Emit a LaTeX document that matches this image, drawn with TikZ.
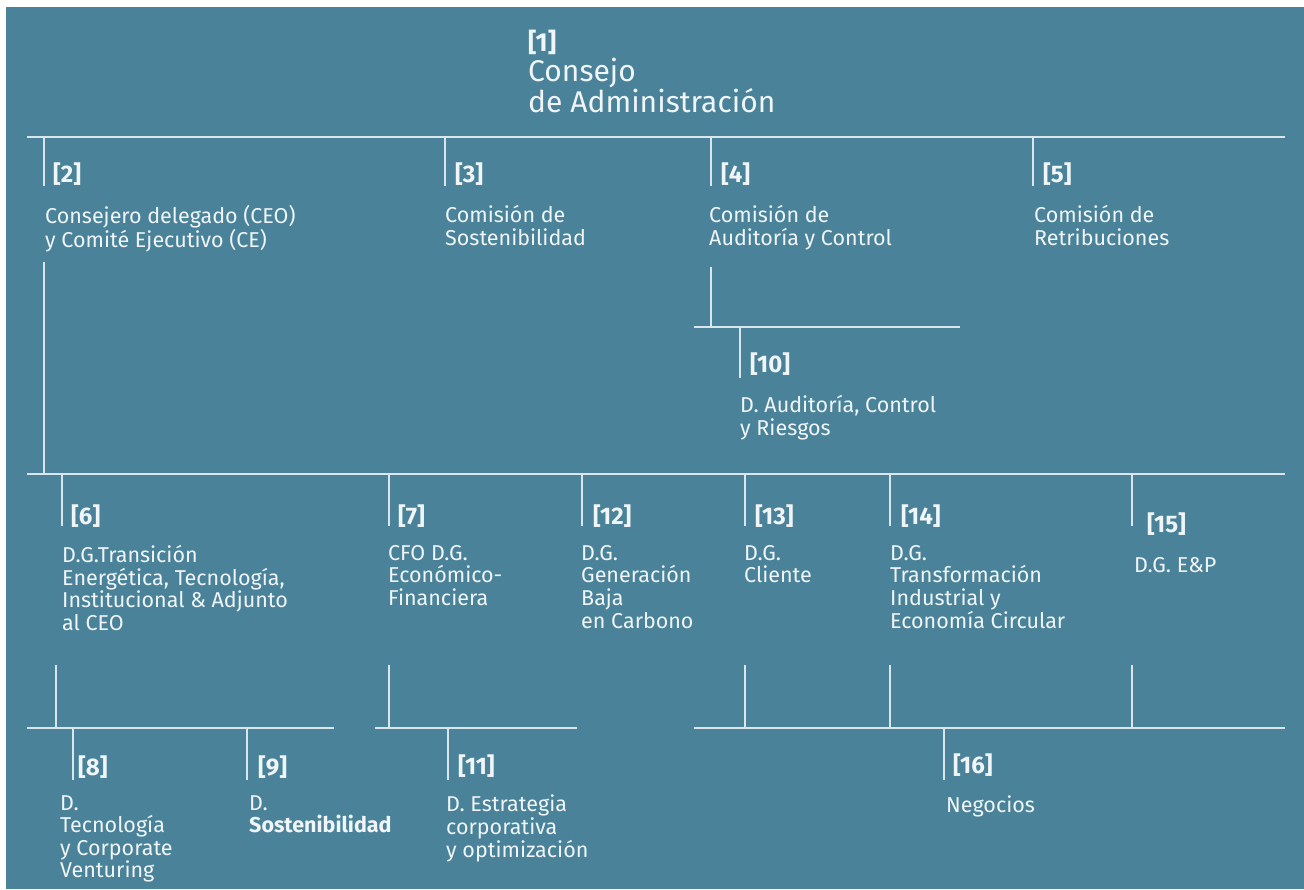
\documentclass[tikz,border=0pt]{standalone}
\usepackage{fontspec}
\setmainfont{Fira Sans}
\usetikzlibrary{positioning}
\definecolor{panel}{RGB}{74,131,153}
\definecolor{wirec}{RGB}{218,230,235}
\definecolor{ink}{RGB}{240,245,247}

\begin{document}
\begin{tikzpicture}[
    x=1pt, y=-1pt,
    every node/.style={inner sep=0pt, text=ink},
    lbl/.style={anchor=west, font=\bfseries\fontsize{24}{24}\selectfont},
    txt/.style={anchor=north west, yshift=17pt, align=left,
      execute at begin node={\rule{0pt}{17pt}},
      font=\fontsize{21.5}{22.6}\selectfont},
    head/.style={anchor=north west, yshift=24pt, align=left,
      execute at begin node={\rule{0pt}{24pt}},
      font=\fontsize{30}{28}\selectfont},
    wire/.style={draw=wirec, line width=1.8pt}
]
\useasboundingbox (0,0) rectangle (1304,889);
\fill[panel] (6,7) rectangle (1304,889);

% consejo
\node[lbl, font=\bfseries\fontsize{26}{26}\selectfont] (n1) at (528,42) {[1]};
\node[head] (t1) at (528,82) {Consejo\\de Administración};

% top bus
\coordinate (busA1) at (27,137);
\coordinate (busA2) at (1285,137);
\draw[wire] (busA1) -- (busA2);
\foreach \i/\x in {2/44,3/445,4/711,5/1033}{
  \coordinate (k\i) at (\x,137);
  \draw[wire] (k\i) -- ++(0,49);
}
\node[lbl] (n2) at (53,174) {[2]};
\node[txt] (t2) at (45,222) {Consejero delegado (CEO)\\y Comité Ejecutivo (CE)};
\node[lbl] (n3) at (455,174) {[3]};
\node[txt] (t3) at (445,222) {Comisión de\\Sostenibilidad};
\node[lbl] (n4) at (721,174) {[4]};
\node[txt] (t4) at (709,222) {Comisión de\\Auditoría y Control};
\node[lbl] (n5) at (1043,174) {[5]};
\node[txt] (t5) at (1034,222) {Comisión de\\Retribuciones};

% auditoria
\coordinate (a4) at (711,267);
\coordinate (busB1) at (694,327);
\coordinate (busB2) at (960,327);
\coordinate (k10) at (740,327);
\draw[wire] (a4) -- (a4 |- busB1);
\draw[wire] (busB1) -- (busB2);
\draw[wire] (k10) -- ++(0,51);
\node[lbl] (n10) at (750,364) {[10]};
\node[txt] (t10) at (740,412) {D. Auditoría, Control\\y Riesgos};

% direcciones generales
\coordinate (a2) at (44,262);
\coordinate (busC1) at (27,474);
\coordinate (busC2) at (1285,474);
\draw[wire] (a2) -- (a2 |- busC1);
\draw[wire] (busC1) -- (busC2);
\foreach \i/\x in {6/62,7/389,12/582,13/745,14/890,15/1132}{
  \coordinate (k\i) at (\x,474);
  \draw[wire] (k\i) -- ++(0,52);
}
\node[lbl] (n6) at (71,516) {[6]};
\node[txt] (t6) at (62,562) {D.G.Transición\\Energética, Tecnología,\\Institucional \& Adjunto\\al CEO};
\node[lbl] (n7) at (398,516) {[7]};
\node[txt] (t7) at (388,562) {CFO D.G.\\Económico-\\Financiera};
\node[lbl] (n12) at (593,516) {[12]};
\node[txt] (t12) at (581,562) {D.G.\\Generación\\Baja\\en Carbono};
\node[lbl] (n13) at (755,516) {[13]};
\node[txt] (t13) at (744,562) {D.G.\\Cliente};
\node[lbl] (n14) at (901,516) {[14]};
\node[txt] (t14) at (890,562) {D.G.\\Transformación\\Industrial y\\Economía Circular};
\node[lbl] (n15) at (1147,524) {[15]};
\node[txt] (t15) at (1134,572) {D.G. E\&P};

% direcciones
\foreach \i/\x in {6/56,7/389,13/745,14/890,15/1132}{
  \coordinate (d\i) at (\x,665);
  \draw[wire] (d\i) -- ++(0,63);
}
\coordinate (busD1) at (27,728);
\coordinate (busD2) at (334,728);
\coordinate (busE1) at (375,728);
\coordinate (busE2) at (577,728);
\coordinate (busF1) at (694,728);
\coordinate (busF2) at (1285,728);
\draw[wire] (busD1) -- (busD2);
\draw[wire] (busE1) -- (busE2);
\draw[wire] (busF1) -- (busF2);
\foreach \i/\x in {8/73,9/247,11/448,16/944}{
  \coordinate (k\i) at (\x,728);
  \draw[wire] (k\i) -- ++(0,52);
}
\node[lbl] (n8) at (78,767) {[8]};
\node[txt] (t8) at (60,812) {D.\\Tecnología\\y Corporate\\Venturing};
\node[lbl] (n9) at (258,767) {[9]};
\node[txt] (t9) at (249,812) {D.\\\textbf{Sostenibilidad}};
\node[lbl] (n11) at (458,766) {[11]};
\node[txt] (t11) at (446,812) {D. Estrategia\\corporativa\\y optimización};
\node[lbl] (n16) at (953,765) {[16]};
\node[txt] (t16) at (946,812) {Negocios};
\end{tikzpicture}
\end{document}
